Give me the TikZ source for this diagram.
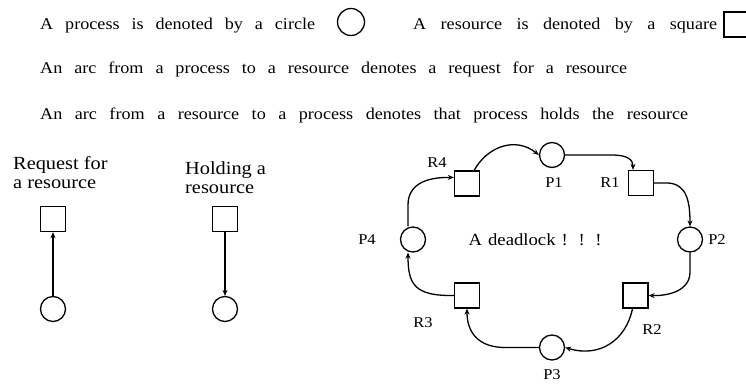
\documentclass[tikz,border=0pt]{standalone}
\usepackage{fontspec}
\setmainfont[FakeStretch=1.1]{Liberation Serif}
\usetikzlibrary{arrows.meta,calc}
\tikzset{
 proc/.style={circle,draw,line width=1.3pt,minimum size=25pt,inner sep=0pt},
 res/.style={rectangle,draw,line width=1.3pt,minimum size=25pt,inner sep=0pt},
 arc/.style={line width=1.3pt,-{Stealth[length=6pt,width=5pt]}},
 lbl/.style={font=\fontsize{15}{17}\selectfont,inner sep=0pt},
 txt/.style={font=\fontsize{16.5}{19}\selectfont,inner sep=0pt,anchor=base west},
 captext/.style={font=\fontsize{18.5}{19.5}\selectfont,inner sep=0pt,align=left,anchor=north west},
}
\newcommand\fitbox[2]{\makebox[#1pt][s]{#2}}
\begin{document}
\begin{tikzpicture}[x=1pt,y=-1pt]
\useasboundingbox (0,0) rectangle (746,383);
\clip (0,0) rectangle (746,383);
% header
\node[txt] (t1) at (40,29) {\fitbox{275}{A process is denoted by a circle}};
\node[proc,minimum size=27pt] (c0) at (351,22) {};
\node[txt] (t1b) at (413,29) {\fitbox{304}{A resource is denoted by a square}};
\node[res] (s0) at (736.5,24.5) {};
\node[txt] (t2) at (40,73) {\fitbox{587}{An arc from a process to a resource denotes a request for a resource}};
\node[txt] (t3) at (40,119) {\fitbox{648}{An arc from a resource to a process denotes that process holds the resource}};
% request
\node[captext] (q1) at (13,156) {Request for\\a resource};
\node[res] (sq1) at (53,219) {};
\node[proc] (pc1) at (53,309) {};
\draw[arc] (pc1) -- (sq1);
% holding
\node[captext] (h1) at (185,161) {Holding a\\resource};
\node[res] (sq2) at (225,219) {};
\node[proc] (pc2) at (225,309) {};
\draw[arc] (sq2) -- (pc2);
% deadlock cycle
\node[res] (R4) at (467,183.5) {};
\node[proc] (P1) at (552,155) {};
\node[res] (R1) at (641,183) {};
\node[proc] (P2) at (690,239.5) {};
\node[res] (R2) at (635.5,295.5) {};
\node[proc] (P3) at (552,347.5) {};
\node[res] (R3) at (467,295.5) {};
\node[proc] (P4) at (413,239.5) {};
\node[lbl] (lR4) at (437,163) {R4};
\node[lbl] (lP1) at (554,183) {P1};
\node[lbl] (lR1) at (610,183) {R1};
\node[lbl] (lP4) at (367,240) {P4};
\node[lbl] (lP2) at (717,240) {P2};
\node[lbl] (lR3) at (423,323) {R3};
\node[lbl] (lR2) at (652,330) {R2};
\node[lbl] (lP3) at (552,375) {P3};
\node[font=\fontsize{17}{19}\selectfont,inner sep=0pt] (dl) at (535,240) {\fitbox{133}{A deadlock ! ! !}};
\draw[arc] ($(R4.north east)+(-6,0)$) .. controls (487,147) and (515,136) .. (P1.west);
\draw[arc] (P1.east) -- (612,155) .. controls (628,155) and (633,160) .. ($(R1.north)+(-8,0)$);
\draw[arc] (R1.east) -- (668,183) .. controls (686,184) and (690,200) .. (P2.north);
\draw[arc] (P2.south) -- (690,272) .. controls (690,290) and (670,296) .. (R2.east);
\draw[arc] ($(R2.south)+(-3,0)$) .. controls (626,340) and (600,358) .. (P3.east);
\draw[arc] (P3.west) -- (505,347.5) .. controls (478,347.5) and (467,332) .. (R3.south);
\draw[arc] (R3.west) .. controls (415,296) and (408,285) .. ($(P4.south)+(-5,0)$);
\draw[arc] ($(P4.north)+(-5,0)$) -- (408,205) .. controls (408,185) and (425,177) .. ($(R4.west)+(0,-6)$);
\end{tikzpicture}
\end{document}
